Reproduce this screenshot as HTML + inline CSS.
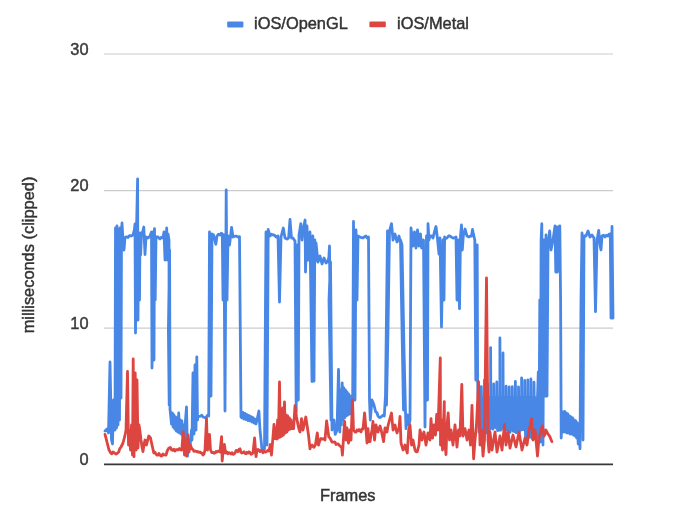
<!DOCTYPE html>
<html><head><meta charset="utf-8"><style>
html,body{margin:0;padding:0;background:#fff;}
body{width:700px;height:516px;overflow:hidden;}
svg{display:block;filter:blur(0.6px);}
text{font-family:"Liberation Sans",Arial,sans-serif;stroke-width:0.45px;}
</style></head><body>
<svg width="700" height="516" viewBox="0 0 700 516">
<rect x="0" y="0" width="700" height="516" fill="#fff"/>
<g stroke="#cccccc" stroke-width="1.2">
<line x1="104" y1="54" x2="613" y2="54"/>
<line x1="104" y1="190.7" x2="613" y2="190.7"/>
<line x1="104" y1="328.1" x2="613" y2="328.1"/>
</g>
<g font-size="16.4" fill="#3a3a3a" stroke="#3a3a3a" text-anchor="end">
<text x="88.5" y="54.5">30</text>
<text x="88.5" y="190.8">20</text>
<text x="88.5" y="329">10</text>
<text x="88.5" y="464.5">0</text>
</g>
<g fill="none" stroke-linejoin="round" stroke-linecap="round" stroke-width="2.8">
<polyline stroke="#4887e6" points="105.0,431.0 107.0,429.0 108.5,433.0 110.0,362.0 111.5,440.0 112.5,444.0 113.5,400.0 115.0,430.0 115.5,228.0 116.5,428.0 117.0,226.0 118.0,425.0 118.5,230.0 119.5,420.0 120.0,228.0 121.0,398.0 121.5,232.0 122.0,223.0 123.0,240.0 124.0,250.0 125.0,237.5 126.5,236.9 128.0,237.5 129.5,235.6 131.0,236.0 133.0,235.0 134.4,230.0 135.0,224.0 135.5,333.0 136.5,230.0 137.6,179.0 138.0,320.0 138.5,235.0 139.5,300.0 140.0,233.0 140.6,255.0 141.4,236.0 142.6,232.0 143.8,227.0 145.0,254.5 146.0,237.0 148.0,238.0 150.0,236.0 151.5,232.0 152.0,368.0 153.0,232.0 154.0,360.0 154.5,228.7 155.2,300.0 156.0,237.0 158.0,237.0 160.0,239.0 161.5,237.1 163.0,238.0 164.0,232.0 165.0,260.0 166.0,240.0 166.7,228.0 167.4,260.0 168.0,234.0 169.0,240.0 169.2,405.0 168.4,330.0 169.6,250.0 170.0,409.0 170.5,414.0 170.5,414.0 171.5,424.0 172.3,413.0 173.1,427.0 173.9,415.0 174.7,429.0 175.5,417.0 176.3,431.0 177.1,418.0 177.9,432.0 178.7,413.0 179.5,433.0 180.3,420.0 181.1,434.0 181.9,421.0 182.7,436.0 183.5,425.0 184.5,440.0 185.5,420.0 186.5,407.0 187.5,456.0 189.0,440.0 190.0,447.0 191.5,430.0 192.0,440.0 193.0,373.0 194.0,434.0 195.0,365.0 196.0,430.0 196.8,357.0 197.5,420.0 198.0,416.0 199.2,416.4 200.5,416.1 201.8,415.3 203.0,417.0 204.5,417.5 206.0,418.0 207.3,415.5 208.7,416.0 209.5,232.0 211.0,396.0 212.0,234.0 213.5,235.0 214.7,239.4 215.8,244.3 217.0,236.0 218.5,234.1 220.0,235.0 221.2,233.2 222.3,234.0 223.0,300.0 224.0,235.0 225.0,411.0 226.2,190.0 227.0,300.0 228.0,236.0 229.5,245.0 231.6,227.4 233.0,237.0 234.5,236.3 236.0,236.0 238.0,237.0 239.5,236.7 241.0,417.0 242.0,418.0 243.0,412.5 244.0,419.0 245.0,413.5 246.0,419.5 247.0,414.5 248.0,420.5 249.0,415.5 250.0,421.0 251.0,416.5 252.0,422.0 253.0,417.5 254.0,423.0 255.0,419.0 256.0,424.0 257.0,420.0 258.9,411.0 260.0,430.0 262.0,449.5 263.2,450.3 264.5,449.0 265.5,300.0 266.0,232.0 267.0,445.0 268.2,229.5 270.0,236.0 271.5,234.3 273.0,235.0 274.5,235.1 276.0,237.0 278.0,236.0 279.5,302.0 281.0,237.0 282.1,232.9 283.3,228.0 285.0,238.0 287.0,239.0 288.6,238.0 290.0,219.5 291.5,238.0 293.0,238.0 295.0,241.0 296.2,411.5 297.2,245.0 298.3,400.0 299.0,235.0 300.8,223.7 302.0,240.0 303.0,230.0 305.1,220.0 305.5,272.0 307.0,226.0 308.0,260.0 310.0,232.0 312.0,381.6 312.8,236.0 314.0,381.0 314.8,240.0 315.0,262.0 316.0,243.0 318.0,262.0 320.0,256.0 322.0,264.0 324.0,258.0 326.0,263.0 327.4,261.9 328.8,258.0 329.5,246.0 331.0,420.0 329.0,300.0 330.5,262.0 332.0,430.0 334.0,420.0 335.2,434.4 337.0,430.0 338.5,369.5 339.8,432.0 340.6,390.0 341.4,425.0 342.2,383.0 343.0,420.0 343.8,388.0 344.6,418.0 345.4,390.0 346.2,416.0 347.0,392.0 347.8,415.0 348.6,394.0 349.4,414.0 350.2,396.0 351.0,414.0 351.8,398.0 352.6,415.0 353.5,221.5 355.0,400.0 356.0,230.0 357.0,300.0 358.0,236.0 360.0,237.0 361.5,237.7 363.0,238.0 364.5,236.7 366.0,236.0 367.2,238.0 368.5,237.0 369.5,400.0 370.3,420.0 372.0,400.0 374.0,405.0 375.7,412.0 376.9,412.5 378.0,416.0 379.5,417.6 381.0,417.0 382.1,416.0 383.2,415.2 384.3,416.0 385.5,395.0 387.5,231.0 388.0,300.0 386.5,405.0 388.0,330.0 389.5,231.0 391.5,223.7 393.0,240.0 395.0,234.0 397.0,242.0 399.0,236.0 401.0,245.0 402.5,330.0 403.5,410.0 401.5,300.0 400.5,240.0 402.0,245.0 404.0,350.0 405.5,412.0 406.0,428.7 407.5,415.0 409.0,425.0 410.0,420.0 411.0,228.0 413.0,246.0 414.5,232.0 416.0,248.0 417.5,230.0 419.0,246.0 420.5,234.0 421.6,248.0 423.5,240.0 425.0,427.0 426.5,236.0 427.5,400.0 428.0,223.7 429.0,240.0 430.0,236.0 431.5,235.8 433.0,238.0 434.5,231.6 436.0,226.5 437.4,238.0 439.0,254.0 440.0,238.0 441.5,327.0 443.0,240.0 444.0,300.0 444.6,237.0 445.8,238.5 447.0,238.0 448.5,236.0 450.0,236.0 451.5,237.3 453.0,238.0 454.5,237.9 456.0,237.0 457.0,300.0 458.0,240.0 459.5,308.7 460.5,236.0 461.5,225.0 462.3,250.0 463.3,236.0 465.0,229.0 467.0,236.0 469.0,237.0 470.2,236.1 471.5,236.0 472.5,229.4 473.6,234.9 474.8,240.0 475.8,380.0 477.2,245.0 477.6,380.0 478.2,398.0 478.2,384.4 478.4,398.0 479.0,432.0 479.8,398.0 480.5,432.2 481.3,398.0 481.3,386.6 481.5,398.0 482.1,432.0 482.9,398.0 483.6,432.7 484.4,398.0 484.4,380.2 484.6,398.0 485.2,430.9 486.0,398.0 486.7,432.8 487.5,398.0 487.5,384.5 487.7,398.0 488.3,432.6 489.1,398.0 489.8,429.5 490.6,398.0 490.6,347.6 490.8,398.0 491.4,428.0 492.2,398.0 492.9,429.2 493.7,398.0 493.7,384.0 493.9,398.0 494.5,427.1 495.3,398.0 496.0,427.9 496.8,398.0 496.8,382.0 497.0,398.0 497.6,430.7 498.4,398.0 499.1,430.1 499.9,398.0 499.9,338.0 500.1,398.0 500.7,430.2 501.5,398.0 502.2,427.6 503.0,398.0 503.0,353.0 503.2,398.0 503.8,429.5 504.6,398.0 505.3,429.0 506.1,398.0 506.1,386.1 506.3,398.0 506.9,429.8 507.7,398.0 508.4,429.9 509.2,398.0 509.2,386.9 509.4,398.0 510.0,432.5 510.8,398.0 511.5,430.2 512.3,398.0 512.3,386.7 512.5,398.0 513.1,431.2 513.9,398.0 514.6,431.7 515.4,398.0 515.4,381.4 515.6,398.0 516.2,432.8 517.0,398.0 517.7,431.8 518.5,398.0 518.5,386.8 518.7,398.0 519.3,432.6 520.1,398.0 520.8,430.2 521.6,398.0 521.6,378.0 521.8,398.0 522.4,429.7 523.2,398.0 523.9,429.6 524.7,398.0 524.7,380.5 524.9,398.0 525.5,436.2 526.3,398.0 527.0,437.4 527.8,398.0 527.8,380.0 528.0,398.0 528.6,437.7 529.4,398.0 530.1,436.4 530.9,398.0 530.9,379.0 531.1,398.0 531.7,438.3 532.5,398.0 533.2,436.9 534.0,398.0 534.0,382.2 534.2,398.0 534.8,436.9 535.6,398.0 536.3,437.8 537.5,398.0 538.3,372.0 539.0,440.0 539.8,300.0 540.5,442.0 541.1,240.0 541.8,223.7 543.0,445.0 544.0,240.0 545.0,396.0 546.0,235.0 547.0,396.0 548.0,245.0 549.7,230.8 551.0,250.0 553.0,240.0 555.0,226.0 555.8,272.0 556.6,227.0 557.4,272.0 558.2,227.0 559.0,270.0 559.8,226.0 560.6,300.0 561.2,438.0 562.0,420.0 563.0,412.0 563.8,432.0 564.6,411.5 565.4,432.0 566.2,413.0 567.0,433.0 567.8,414.0 568.6,433.0 569.4,416.0 570.2,434.0 571.0,417.0 571.8,434.0 572.6,418.0 573.4,435.0 574.2,420.0 575.0,436.0 575.8,421.0 576.6,438.0 577.4,423.0 578.2,444.0 579.0,430.0 580.0,448.8 581.0,300.0 582.0,233.0 583.0,440.0 584.0,236.0 586.0,236.0 588.0,231.0 590.0,237.0 592.0,235.0 594.0,238.0 595.5,311.6 597.0,240.0 598.7,230.4 600.0,245.0 601.0,250.0 602.0,236.0 603.5,235.1 605.0,237.0 606.5,235.1 608.0,236.0 609.1,234.1 610.3,234.0 611.0,318.0 612.0,226.5 613.0,318.0"/>
<polyline stroke="#dd4540" points="105.0,434.4 106.0,438.1 107.0,442.0 108.0,446.2 109.0,450.0 110.8,453.0 111.9,453.8 113.0,452.0 114.0,452.6 115.0,453.4 116.0,454.0 117.3,453.3 118.7,452.0 119.8,448.6 121.0,447.0 122.0,445.0 123.0,443.0 124.4,437.7 125.8,431.6 126.0,430.0 127.5,371.5 128.5,445.0 129.5,430.0 130.5,450.0 131.5,425.0 132.5,455.0 133.2,359.0 134.0,456.7 135.2,373.0 136.2,450.0 137.0,380.0 138.0,448.0 139.0,425.0 140.0,431.6 141.0,440.0 142.0,446.7 143.0,451.6 144.0,444.6 145.0,440.0 146.5,445.0 147.7,439.9 148.8,436.0 150.5,438.0 152.0,445.0 153.8,453.0 154.9,452.3 156.0,454.0 157.0,455.2 158.0,455.1 159.0,453.4 160.0,455.0 161.0,456.1 162.0,455.7 163.0,454.0 164.0,454.8 165.0,455.0 166.0,455.0 167.4,450.5 168.9,448.0 170.3,447.5 171.7,450.0 172.8,450.4 173.9,449.3 175.0,451.0 176.0,449.7 177.0,449.6 178.0,450.0 179.3,448.6 180.5,449.9 181.8,450.0 183.2,431.6 184.5,455.0 185.5,440.0 186.5,456.0 188.0,435.0 189.0,452.0 190.4,445.0 191.8,448.8 192.9,449.4 193.9,451.3 195.0,451.0 196.0,451.3 197.0,451.8 198.0,451.6 199.0,452.3 200.0,452.0 201.0,452.9 202.0,453.3 203.0,455.0 204.0,454.0 205.0,450.0 206.5,418.7 207.5,450.0 208.7,440.0 209.5,434.4 210.5,450.0 211.8,452.7 213.0,452.4 214.0,453.3 215.0,452.8 216.0,451.5 217.0,452.0 218.0,451.2 219.0,451.4 220.0,452.0 221.6,436.6 222.2,461.0 223.0,452.0 224.4,444.5 225.5,453.0 226.6,451.7 227.8,453.8 228.9,452.7 230.0,453.0 231.0,454.0 232.0,452.7 233.0,454.4 234.0,454.0 235.0,453.0 236.0,450.7 237.0,450.4 238.0,451.7 239.0,449.5 240.0,448.8 241.0,452.3 242.0,453.0 243.0,452.7 244.0,451.7 245.0,453.4 246.0,453.8 247.0,452.3 248.0,453.0 249.0,451.8 250.0,452.5 251.0,454.4 252.0,453.8 253.0,453.0 254.6,438.0 256.0,456.7 257.0,450.0 258.0,449.4 259.0,450.3 260.0,451.6 261.0,450.5 262.0,450.4 263.0,452.7 264.0,451.0 265.0,452.0 266.0,451.9 267.0,451.3 268.0,450.3 269.0,451.0 270.3,444.5 271.5,455.0 274.0,424.4 275.0,438.7 276.0,428.0 276.8,439.0 277.6,420.0 278.4,438.0 279.5,382.0 280.3,437.0 281.1,412.0 281.9,436.0 282.7,408.0 283.5,435.0 284.5,402.0 285.3,433.0 286.1,415.0 286.9,432.0 287.7,416.0 288.5,430.0 289.3,418.0 290.1,429.0 291.0,420.0 292.0,428.7 293.6,428.7 295.0,405.7 296.5,417.0 298.0,425.0 299.0,429.2 300.0,432.0 301.5,418.7 303.0,430.0 305.8,417.0 307.0,425.0 308.5,435.0 310.0,448.8 311.0,445.8 312.0,445.0 313.0,446.6 314.0,447.3 315.5,444.5 317.3,433.0 318.5,445.0 320.0,440.0 321.0,438.5 322.0,439.1 323.0,439.0 324.0,438.6 325.0,440.0 326.6,420.8 328.8,437.0 329.9,437.8 331.0,440.0 332.0,442.1 333.0,442.2 334.0,442.0 335.0,442.1 336.0,444.5 337.0,444.0 338.0,443.8 339.0,445.0 340.0,446.0 341.7,447.3 342.4,455.2 344.6,421.5 346.0,440.0 347.0,428.0 348.5,443.0 350.0,430.0 351.0,440.0 352.5,400.0 353.5,430.0 355.0,432.0 356.0,432.1 357.0,430.0 358.0,430.8 359.0,429.5 360.0,431.0 361.0,431.8 362.0,428.8 363.0,429.0 364.6,413.0 366.0,430.0 367.0,443.0 368.0,428.7 369.0,441.6 370.0,441.6 371.0,435.1 372.0,430.0 373.0,421.5 374.5,440.0 376.0,425.0 377.0,429.3 378.0,432.0 379.0,428.5 380.0,426.0 381.0,429.4 382.0,434.0 383.6,441.6 385.0,428.0 386.0,428.7 387.0,432.0 388.0,425.8 389.0,422.0 390.2,417.7 391.5,413.0 393.0,430.0 394.0,426.7 395.0,425.0 396.0,429.3 397.0,433.0 398.0,430.1 399.0,428.0 400.0,416.5 401.0,443.0 402.0,446.4 403.0,450.0 404.0,448.9 405.0,445.0 406.1,449.0 407.3,453.0 408.7,430.0 410.0,425.0 411.5,445.0 413.0,440.0 414.0,445.2 415.0,450.0 416.1,451.9 417.3,451.6 419.0,445.0 420.0,430.0 421.0,434.0 422.0,440.0 423.0,435.0 424.0,432.0 426.0,445.0 428.0,433.0 429.0,437.7 430.0,440.0 431.0,418.7 432.5,438.0 434.0,425.0 435.5,435.0 436.7,414.3 438.0,430.0 440.3,358.0 440.5,445.0 441.5,420.0 442.5,450.0 444.3,401.7 444.5,440.0 446.0,454.5 447.0,425.0 448.2,413.0 449.5,440.0 451.0,430.0 453.0,445.0 455.0,425.0 457.0,447.0 458.5,430.0 460.0,436.0 461.8,384.5 463.0,436.0 464.0,433.3 465.0,428.7 466.0,433.6 467.0,440.0 468.0,434.1 469.0,430.0 470.5,445.0 472.0,405.3 473.6,458.8 475.0,440.0 476.5,425.0 478.5,381.6 480.0,445.0 481.5,430.0 483.0,456.0 484.5,440.0 486.5,277.9 488.0,440.0 489.0,452.0 490.0,432.0 492.0,450.0 495.0,432.0 497.0,452.0 500.0,436.0 502.0,450.0 504.5,424.4 506.0,445.0 508.0,432.0 510.0,448.0 513.0,435.0 516.0,447.0 519.0,432.0 522.0,450.0 525.0,438.0 526.0,442.2 527.0,445.0 529.0,430.0 530.2,425.7 531.5,418.7 533.0,440.0 534.0,434.1 535.0,430.0 537.5,456.0 539.0,438.0 540.0,435.4 541.0,430.0 542.5,425.8 544.0,436.0 545.0,434.1 546.0,430.0 547.0,432.3 548.0,434.0 549.0,435.3 550.0,437.0 551.8,441.6"/>
</g>
<line x1="104" y1="464.4" x2="613" y2="464.4" stroke="#383838" stroke-width="1.7"/>
<rect x="227.2" y="21.6" width="16.2" height="5.8" rx="1" fill="#4887e6"/>
<text x="254" y="29" font-size="16.4" fill="#333" stroke="#333">iOS/OpenGL</text>
<rect x="369.4" y="21.4" width="16.4" height="5.9" rx="1" fill="#dd4540"/>
<text x="397" y="29" font-size="16.4" fill="#333" stroke="#333">iOS/Metal</text>
<text x="347.7" y="501.2" font-size="16.4" fill="#333" stroke="#333" text-anchor="middle">Frames</text>
<text transform="translate(34,255) rotate(-90)" font-size="16.4" fill="#333" stroke="#333" text-anchor="middle">milliseconds (clipped)</text>
</svg>
</body></html>
